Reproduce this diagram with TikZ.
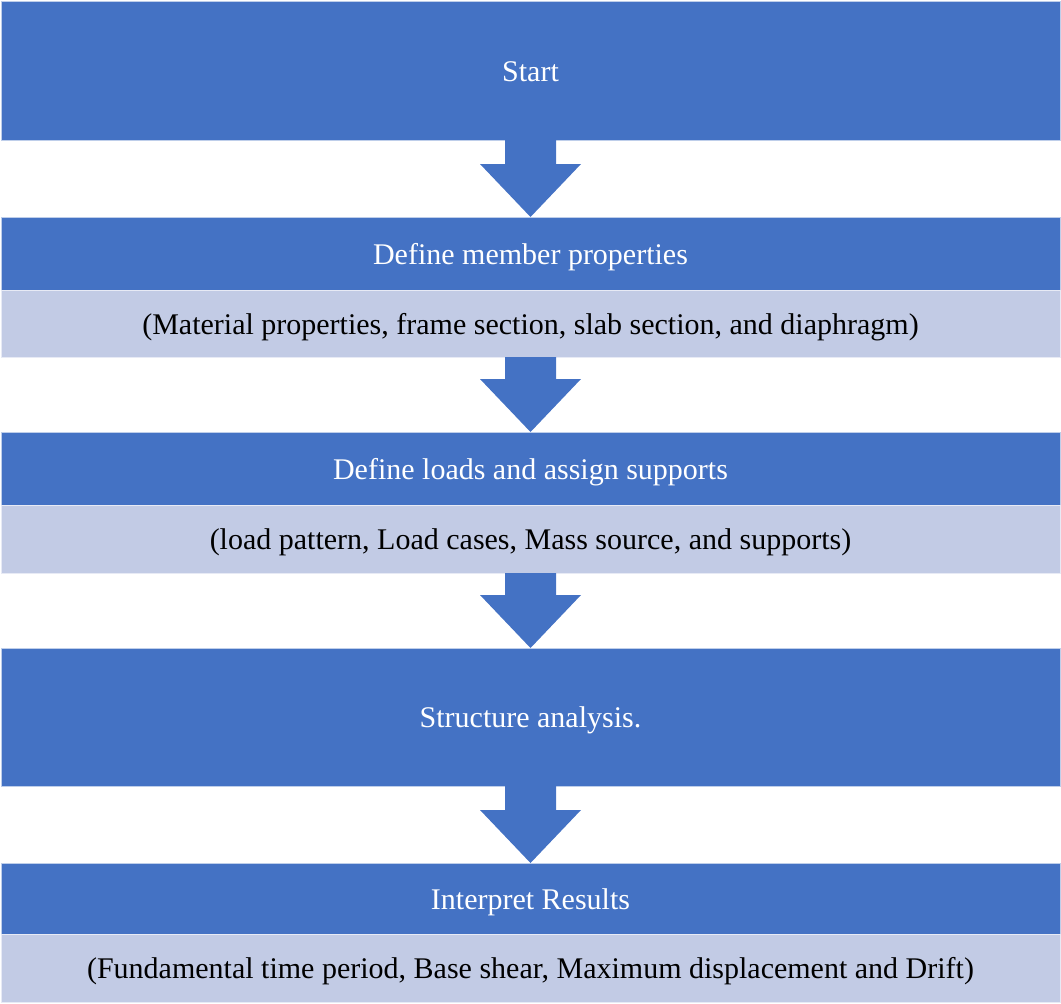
\documentclass[tikz,border=0pt]{standalone}
\usepackage{fontspec}
\setmainfont{Liberation Serif}
\usetikzlibrary{positioning,calc}

\definecolor{stageblue}{HTML}{4472C4}
\definecolor{noteblue}{HTML}{C2CBE5}

\tikzset{
    stage/.style={fill=stageblue,draw=white!65!stageblue,line width=0.8pt,text=white,outer sep=0pt,
        minimum width=1059pt,inner sep=0pt,text height=24pt,text depth=3pt,font=\fontsize{30}{34}\selectfont},
    note/.style={fill=noteblue,draw=white!60!noteblue,line width=0.8pt,text=black,outer sep=0pt,
        minimum width=1059pt,inner sep=0pt,text height=24pt,text depth=3pt,font=\fontsize{30}{34}\selectfont}
}

\begin{document}
\begin{tikzpicture}
    \useasboundingbox (0,0) rectangle (1061pt,-1004pt);
    \node[stage,minimum height=139pt,anchor=north west] (start) at (1pt,-1pt) {Start};
    \node[stage,minimum height=73pt,below=77pt of start] (member) {Define member properties};
    \node[note,minimum height=67pt,below=0pt of member] (membernote) {(Material properties, frame section, slab section, and diaphragm)};
    \node[stage,minimum height=73pt,below=75pt of membernote] (loads) {Define loads and assign supports};
    \node[note,minimum height=68pt,below=0pt of loads] (loadsnote) {(load pattern, Load cases, Mass source, and supports)};
    \node[stage,minimum height=138pt,below=75pt of loadsnote] (analysis) {Structure analysis.};
    \node[stage,minimum height=71pt,below=77pt of analysis] (results) {Interpret Results};
    \node[note,minimum height=68pt,below=0pt of results] (resultsnote) {(Fundamental time period, Base shear, Maximum displacement and Drift)};
    % block arrows between the stages
    \foreach \a/\b in {start/member,membernote/loads,loadsnote/analysis,analysis/results}
        \fill[stageblue] ($(\a.south)+(-25.5pt,0)$) -- ($(\b.north)+(-25.5pt,53pt)$)
            -- ($(\b.north)+(-50.5pt,53pt)$) -- (\b.north) -- ($(\b.north)+(50.5pt,53pt)$)
            -- ($(\b.north)+(25.5pt,53pt)$) -- ($(\a.south)+(25.5pt,0)$) -- cycle;
\end{tikzpicture}
\end{document}
